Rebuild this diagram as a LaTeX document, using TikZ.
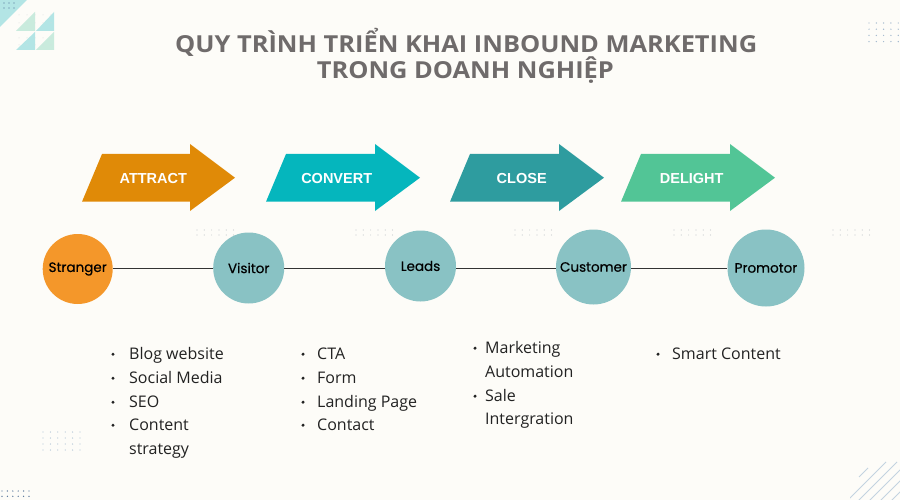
\documentclass[tikz,border=0pt]{standalone}
\usepackage{fontspec}
\usepackage{graphicx}
\setmainfont{Open Sans}
\newfontfamily\titlefont{Open Sans}
\newfontfamily\arrowfont{Liberation Sans}
\newfontfamily\circfont{Poppins}[FakeBold=0.5]
\definecolor{bgc}{HTML}{FDFCF8}
\definecolor{cattract}{HTML}{E08A07}
\definecolor{cconvert}{HTML}{05B6BD}
\definecolor{cclose}{HTML}{2E9C9F}
\definecolor{cdelight}{HTML}{52C596}
\definecolor{cstranger}{HTML}{F4972A}
\definecolor{cteal}{HTML}{89C2C4}
\definecolor{ctitle}{HTML}{6F6B6B}
\definecolor{ctext}{HTML}{222222}
\definecolor{tealL}{HTML}{B3E5E5}
\definecolor{greenL}{HTML}{C9EBDD}
\definecolor{dotc}{HTML}{C9CCCF}
\definecolor{dotb}{HTML}{9FB6CC}
\definecolor{dotd}{HTML}{4F6F95}
\definecolor{linec}{HTML}{C3D3E0}
\tikzset{
  stage/.style={circle, minimum size=#1, inner sep=0pt, text=black, font=\circfont\fontsize{13.5}{15}\selectfont},
  arrlabel/.style={text=white, font=\arrowfont\bfseries\fontsize{14.5}{16}\selectfont},
  item/.style={anchor=base west, inner sep=0pt, text=ctext, font=\fontsize{16}{18}\selectfont},
  titlest/.style={anchor=base west, text=ctitle, font=\titlefont\bfseries\fontsize{23.4}{28}\selectfont, inner sep=0pt},
  conn/.style={draw=black!80, line width=1.2pt}
}
\begin{document}
\begin{tikzpicture}[x=1pt,y=-1pt]
\fill[bgc] (0,0) rectangle (900,500);
\useasboundingbox (0,0) rectangle (900,500);

% top-left decoration
\fill[tealL] (0,0) -- (27,0) -- (0,27) -- cycle;
\foreach \x in {4,9,14} \foreach \y in {3,8} \fill[dotd] (\x,\y) circle (0.7);
\fill[greenL] (35,12) -- (35,31) -- (16,31) -- cycle;
\fill[tealL] (54,12) -- (54,31) -- (36,31) -- cycle;
\fill[tealL] (35,32) -- (35,50) -- (16,50) -- cycle;
\fill[greenL] (54,32) -- (54,50) -- (36,50) -- cycle;
\foreach \x in {19,27,35,43,51} \foreach \y in {15,23,38,45} \fill[dotc!70] (\x,\y) circle (0.5);

% dot clusters
\foreach \cx in {197,356,515,674,833} \foreach \i in {0,...,5} \foreach \j in {0,1}
  \fill[dotc] (\cx+\i*7.3, 230+\j*5) circle (0.6);
\foreach \i in {0,...,4} \foreach \j in {0,...,3}
  \fill[dotb] (869+\i*7.3, 23+\j*6.2) circle (0.7);
\foreach \i in {0,...,5} \foreach \j in {0,...,3}
  \fill[dotb!80] (43+\i*7.4, 432+\j*6) circle (0.65);
\foreach \i in {0,...,5} \foreach \j in {0,1}
  \fill[dotd] (2+\i*5.4, 491+\j*5.3) circle (0.7);
% bottom-right lines
\begin{scope}
\clip (850,458) rectangle (900,500);
\draw[linec, line width=1pt] (859,477) -- (868,468);
\foreach \c in {1348,1359,1370,1381,1392,1403}
  \draw[linec, line width=1pt] (\c-501,501) -- (\c-462,462);
\end{scope}

% title
\node[titlest] (t1) at (175,52.7) {\resizebox{582pt}{\height}{QUY TRÌNH TRIỂN KHAI INBOUND MARKETING}};
\node[titlest] (t2) at (316.7,79) {\resizebox{297pt}{\height}{TRONG DOANH NGHIỆP}};

% arrows
\foreach \bl/\hd/\tp/\col/\nm/\lab/\lx in {82/190/235/cattract/aA/ATTRACT/153.3,
    266/375/420/cconvert/aB/CONVERT/336.7,
    450/559/604/cclose/aC/CLOSE/521.7,
    621/730/775/cdelight/aD/DELIGHT/691.7}{
  \fill[\col] (\bl,201.7) -- (\bl+20,154) -- (\hd,154) -- (\hd,144) -- (\tp,177.7)
     -- (\hd,211) -- (\hd,201.7) -- cycle;
  \node[arrlabel] (\nm) at (\lx,178.2) {\lab};
}

% stages
\node[stage=70pt, fill=cstranger] (s) at (77.7,269) {Stranger};
\node[stage=71pt, fill=cteal] (v) at (248.7,268) {Visitor};
\node[stage=71pt, fill=cteal] (l) at (420.5,266) {Leads};
\node[stage=75pt, fill=cteal] (c) at (593.5,267) {Customer};
\node[stage=77pt, fill=cteal] (p) at (766,268) {Promotor};
\draw[conn] (s.east |- 0,268.5) -- (v.west |- 0,268.5);
\draw[conn] (v.east |- 0,268.5) -- (l.west |- 0,268.5);
\draw[conn] (l.east |- 0,268.5) -- (c.west |- 0,268.5);
\draw[conn] (c.east |- 0,268.5) -- (p.west |- 0,268.5);

% lists
\foreach \bx/\tx/\by/\txt/\nm in {
   113/129/359/Blog website/i1, 113/129/383/Social Media/i2, 113/129/407/SEO/i3,
   113/129/430/Content/i4, 0/129/454/strategy/i5,
   303/317/359/CTA/j1, 303/317/383/Form/j2, 303/317/407/Landing Page/j3, 303/317/430/Contact/j4,
   475/485/353/Marketing/k1, 0/485/377/Automation/k2, 475/485/401/Sale/k3, 0/485/424/Intergration/k4,
   658/672/359/Smart Content/m1}{
  \node[item] (\nm) at (\tx,\by) {\txt};
  \ifnum\bx>0 \fill[ctext] (\bx,\by-4.8) circle (1.7); \fi
}
\end{tikzpicture}
\end{document}
